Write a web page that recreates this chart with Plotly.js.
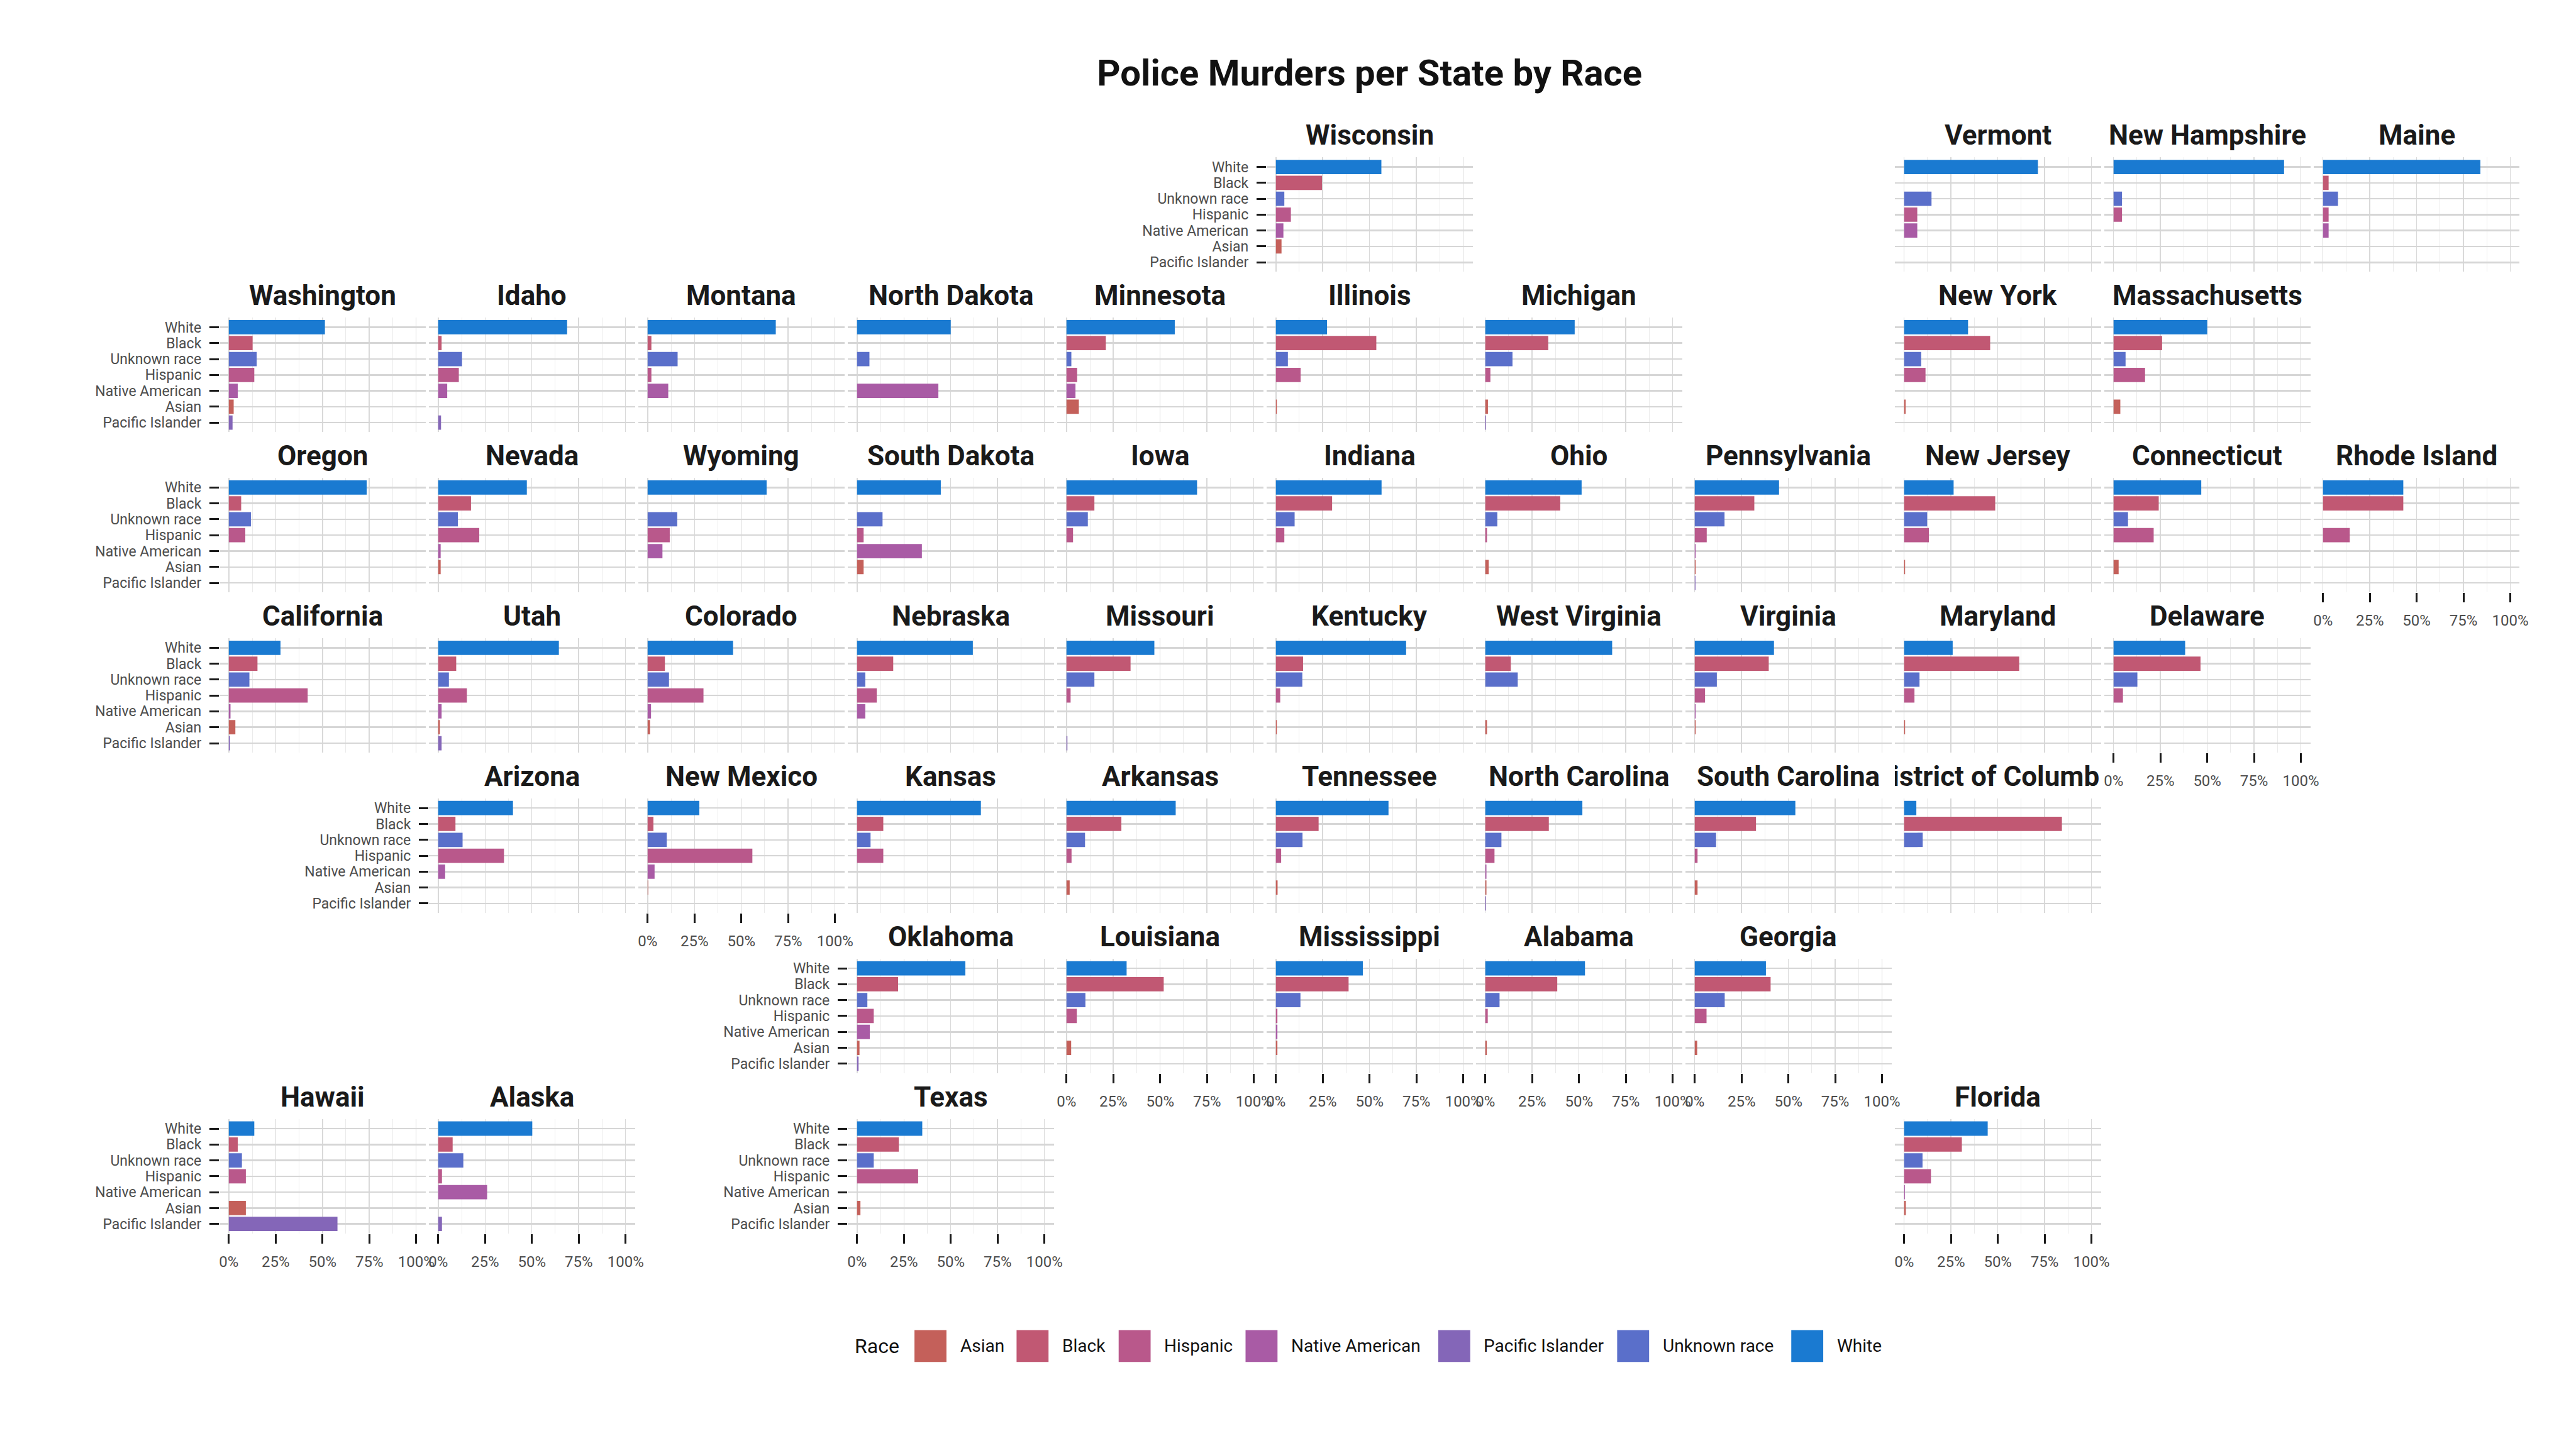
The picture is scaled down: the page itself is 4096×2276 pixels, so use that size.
<!DOCTYPE html>
<html><head><meta charset="utf-8">
<script src="https://cdn.plot.ly/plotly-3.0.1.min.js"></script>
<style>html,body{margin:0;padding:0;background:#fff}#chart{width:4096px;height:2276px}</style>
</head><body><div id="chart"></div>
<script>
// ---------------- DATA ----------------
const races = ["White","Black","Unknown race","Hispanic","Native American","Asian","Pacific Islander"];
const legendOrder = ["Asian","Black","Hispanic","Native American","Pacific Islander","Unknown race","White"];
const states = ["Wisconsin","Vermont","New Hampshire","Maine",
  "Washington","Idaho","Montana","North Dakota","Minnesota","Illinois","Michigan","New York","Massachusetts",
  "Oregon","Nevada","Wyoming","South Dakota","Iowa","Indiana","Ohio","Pennsylvania","New Jersey","Connecticut","Rhode Island",
  "California","Utah","Colorado","Nebraska","Missouri","Kentucky","West Virginia","Virginia","Maryland","Delaware",
  "Arizona","New Mexico","Kansas","Arkansas","Tennessee","North Carolina","South Carolina","District of Columbia",
  "Oklahoma","Louisiana","Mississippi","Alabama","Georgia",
  "Hawaii","Alaska","Texas","Florida"];
// share of police killings by race, per state (same order as states)
const white = [0.563,0.714,0.910,0.840, 0.513,0.688,0.684,0.500,0.578,0.273,0.477,0.341,0.500,
  0.736,0.473,0.635,0.447,0.697,0.564,0.514,0.450,0.264,0.468,0.4286,
  0.276,0.644,0.456,0.618,0.469,0.695,0.677,0.423,0.259,0.382,
  0.399,0.276,0.661,0.583,0.601,0.518,0.537,0.065,
  0.578,0.321,0.464,0.532,0.380, 0.136,0.502,0.348,0.446];
const black = [0.246,0,0,0.030, 0.127,0.018,0.020,0,0.210,0.536,0.336,0.459,0.259,
  0.066,0.175,0,0,0.149,0.300,0.400,0.318,0.486,0.241,0.4286,
  0.153,0.096,0.092,0.193,0.342,0.145,0.136,0.395,0.614,0.464,
  0.092,0.031,0.140,0.293,0.228,0.339,0.327,0.842,
  0.219,0.519,0.388,0.384,0.405, 0.048,0.077,0.223,0.308];
const unknownRace = [0.045,0.146,0.045,0.080, 0.149,0.127,0.160,0.066,0.026,0.064,0.145,0.091,0.064,
  0.118,0.105,0.158,0.136,0.114,0.100,0.064,0.159,0.123,0.077,0,
  0.110,0.057,0.114,0.044,0.149,0.141,0.173,0.118,0.082,0.127,
  0.130,0.102,0.072,0.099,0.142,0.086,0.114,0.099,
  0.055,0.101,0.131,0.076,0.160, 0.070,0.134,0.089,0.098];
const hispanic = [0.080,0.070,0.045,0.030, 0.136,0.110,0.020,0,0.057,0.132,0.027,0.114,0.168,
  0.088,0.219,0.118,0.035,0.035,0.045,0.009,0.064,0.132,0.214,0.1429,
  0.421,0.153,0.298,0.105,0.022,0.023,0,0.055,0.055,0.050,
  0.351,0.559,0.140,0.027,0.028,0.049,0.015,0,
  0.089,0.055,0.008,0.013,0.063, 0.091,0.020,0.326,0.143];
const nativeAmerican = [0.040,0.070,0,0.030, 0.048,0.048,0.110,0.434,0.048,0,0,0,0,
  0,0.013,0.079,0.346,0,0,0,0.005,0,0,0,
  0.009,0.018,0.018,0.044,0,0,0,0.005,0,0,
  0.037,0.037,0,0,0,0.006,0,0,
  0.068,0,0.008,0,0, 0,0.261,0,0.004];
const asian = [0.030,0,0,0, 0.026,0,0,0,0.066,0.005,0.014,0.008,0.036,
  0,0.013,0,0.035,0,0,0.018,0.005,0.005,0.027,0,
  0.035,0.009,0.013,0,0,0.005,0.009,0.005,0.005,0,
  0,0.003,0,0.017,0.009,0.006,0.015,0,
  0.013,0.025,0.008,0.008,0.013, 0.091,0,0.018,0.009];
const pacificIslander = [0,0,0,0, 0.020,0.015,0,0,0,0,0.004,0,0,
  0,0,0,0,0,0,0,0.004,0,0,0,
  0.006,0.018,0,0,0.005,0,0,0,0,0,
  0,0,0,0,0,0.004,0,0,
  0.008,0,0,0,0, 0.580,0.020,0,0];
const xTickVals = [0,0.25,0.5,0.75,1];
const xTickText = ["0%","25%","50%","75%","100%"];

// ---------------- LAYOUT HELPERS (geofacet grid) ----------------
const gridRow = [0,0,0,0, 1,1,1,1,1,1,1,1,1, 2,2,2,2,2,2,2,2,2,2,2, 3,3,3,3,3,3,3,3,3,3, 4,4,4,4,4,4,4,4, 5,5,5,5,5, 6,6,6,6];
const gridCol = [5,8,9,10, 0,1,2,3,4,5,6,8,9, 0,1,2,3,4,5,6,7,8,9,10, 0,1,2,3,4,5,6,7,8,9, 1,2,3,4,5,6,7,8, 3,4,5,6,7, 0,1,3,8];
const yLabelStates = ["Wisconsin","Washington","Oregon","California","Arizona","Oklahoma","Hawaii","Texas"];
const xLabelStates = ["Rhode Island","Delaware","New Mexico","Louisiana","Mississippi","Alabama","Georgia","Hawaii","Alaska","Texas","Florida"];
const raceColors = {"Asian":"#c4605a","Black":"#c15873","Hispanic":"#b9588b","Native American":"#a95ba5",
  "Pacific Islander":"#8466b8","Unknown race":"#5a6fca","White":"#1a7ad1"};
const seriesByRace = {"White":white,"Black":black,"Unknown race":unknownRace,"Hispanic":hispanic,
  "Native American":nativeAmerican,"Asian":asian,"Pacific Islander":pacificIslander};

const RW = 5400, RH = 3000;           // reference size
const FONT = "Roboto, 'Liberation Sans', sans-serif";
const P_LEFT0 = 460, P_COLSTEP = 439, P_W = 432;
const P_TOP0 = 330, P_ROWSTEP = 336, P_H = 240;
const fx = v => v / RW;
const fy = v => 1 - v / RH;

const traces = [];
const layout = {
  width: 4096, height: 2276,
  margin: {l:0, r:0, t:0, b:0, pad:0},
  paper_bgcolor: "#ffffff", plot_bgcolor: "#ffffff",
  showlegend: false, hovermode: false,
  font: {family: FONT, color: "#4d4d4d"},
  title: {text: "<b>Police Murders per State by Race</b>", x: 2871/RW, xanchor: "center",
          y: fy(152), yanchor: "middle", font: {family: FONT, size: 58, color: "#111111"}},
  annotations: [], shapes: []
};

states.forEach((st, i) => {
  const n = i === 0 ? "" : String(i + 1);
  const left = P_LEFT0 + P_COLSTEP * gridCol[i];
  const top = P_TOP0 + P_ROWSTEP * gridRow[i];
  const hasY = yLabelStates.includes(st);
  const hasX = xLabelStates.includes(st);
  layout["xaxis" + n] = {
    domain: [fx(left), fx(left + P_W)], anchor: "y" + n,
    range: [-0.05, 1.05], tickmode: "array", tickvals: xTickVals, ticktext: xTickText,
    showgrid: true, gridcolor: "#d9d9d9", gridwidth: 1.5,
    minor: {tickvals: [0.125,0.375,0.625,0.875], showgrid: true, gridcolor: "#ebebeb", gridwidth: 1},
    zeroline: false, showline: false, fixedrange: true,
    showticklabels: hasX, ticks: hasX ? "outside" : "", ticklen: 15, tickwidth: 3, tickcolor: "#1a1a1a",
    ticklabelstandoff: 8,
    tickfont: {family: FONT, size: 24, color: "#4d4d4d"}
  };
  layout["yaxis" + n] = {
    domain: [fy(top + P_H), fy(top)], anchor: "x" + n,
    type: "category", categoryorder: "array", categoryarray: races,
    tickmode: "array", tickvals: races, ticktext: races,
    range: [6.6, -0.6],
    showgrid: true, gridcolor: "#d6d6d6", gridwidth: 2.5,
    zeroline: false, showline: false, fixedrange: true,
    showticklabels: hasY, ticks: hasY ? "outside" : "", ticklen: 15, tickwidth: 3, tickcolor: "#1a1a1a",
    ticklabelstandoff: 8,
    tickfont: {family: FONT, size: 23, color: "#4d4d4d"}
  };
  traces.push({
    type: "bar", orientation: "h",
    x: races.map(r => seriesByRace[r][i]), y: races,
    xaxis: "x" + n, yaxis: "y" + n, width: 0.9,
    marker: {color: races.map(r => raceColors[r]), line: {width: 0}},
    showlegend: false, hoverinfo: "skip"
  });
  const ann = {
    text: "<b>" + st + "</b>", xref: "paper", yref: "paper",
    x: fx(left + P_W / 2), y: fy(top - 46), xanchor: "center", yanchor: "middle",
    showarrow: false, font: {family: FONT, size: 44, color: "#1a1a1a"}
  };
  if (st === "District of Columbia") { ann.width = Math.round(P_W * 0.758); ann.align = "center"; }
  layout.annotations.push(ann);
});

// ---------------- LEGEND (drawn manually for large keys) ----------------
const legendKeyLeft = [1917, 2131, 2345, 2611, 3015, 3390, 3755];
const legendKeySize = 67, legendCY = 2822;
layout.annotations.push({text: "Race", xref: "paper", yref: "paper", x: fx(1789), y: fy(legendCY),
  xanchor: "left", yanchor: "middle", showarrow: false, font: {family: FONT, size: 32, color: "#111111"}});
legendOrder.forEach((r, k) => {
  const l = legendKeyLeft[k];
  layout.shapes.push({type: "rect", xref: "paper", yref: "paper",
    x0: fx(l), x1: fx(l + legendKeySize), y0: fy(legendCY + legendKeySize / 2), y1: fy(legendCY - legendKeySize / 2),
    fillcolor: raceColors[r], line: {width: 0}});
  layout.annotations.push({text: r, xref: "paper", yref: "paper", x: fx(l + legendKeySize + 26), y: fy(legendCY),
    xanchor: "left", yanchor: "middle", showarrow: false, font: {family: FONT, size: 28, color: "#111111"}});
});

Plotly.newPlot("chart", traces, layout, {staticPlot: true, displayModeBar: false});
</script>
</body></html>
